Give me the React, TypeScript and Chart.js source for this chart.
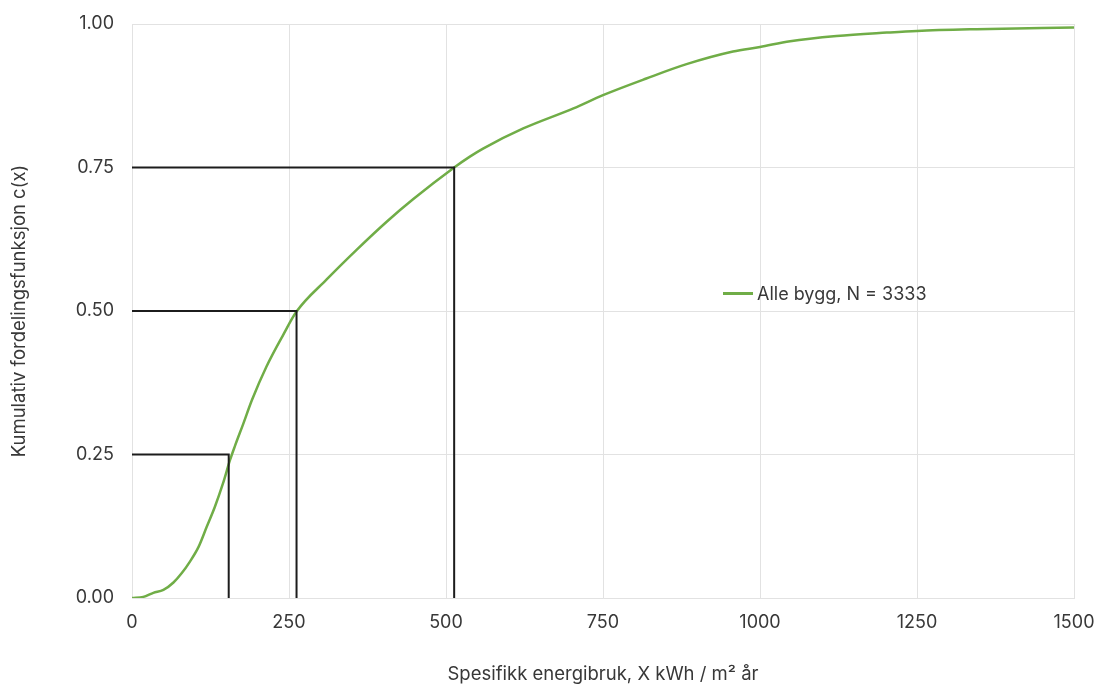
import React, { useEffect, useRef } from "react";
import { Chart, registerables } from "chart.js";

Chart.register(...registerables);

const energyX = [0, 18, 34, 50, 66, 79, 92, 106, 119, 132, 145, 156, 164, 177, 191, 214, 241, 262, 310, 358, 406, 448, 513, 538, 559, 623, 703, 750, 819, 883, 957, 1000, 1048, 1122, 1202, 1250, 1345, 1500];
const cdfY = [0, 0.002, 0.009, 0.014, 0.027, 0.043, 0.063, 0.089, 0.124, 0.159, 0.2, 0.24, 0.265, 0.303, 0.345, 0.403, 0.459, 0.499, 0.555, 0.607, 0.656, 0.695, 0.75, 0.769, 0.783, 0.818, 0.853, 0.876, 0.905, 0.93, 0.952, 0.96, 0.97, 0.979, 0.985, 0.988, 0.991, 0.994];

// Quartile marker lines
const quartileLevels = [0.25, 0.5, 0.75];
const quartileValues = [154, 262, 513];

const seriesLabel = "Alle bygg, N = 3333";
const xTitle = "Spesifikk energibruk, X kWh / m² år";
const yTitle = "Kumulativ fordelingsfunksjon c(x)";

const xTicks = [0, 250, 500, 750, 1000, 1250, 1500];
const yTicks = [0, 0.25, 0.5, 0.75, 1];

const GREEN = "#70ad47";
const TEXT = "#383838";
const GRID = "#e2e2e2";
const FONT = "Inter, sans-serif";

export default function App() {
  const canvasRef = useRef<HTMLCanvasElement>(null);

  useEffect(() => {
    if (!canvasRef.current) return;
    const quartileSets = quartileValues.map((qx, i) => ({
      label: "q" + i,
      data: [
        { x: 0, y: quartileLevels[i] },
        { x: qx, y: quartileLevels[i] },
        { x: qx, y: 0 },
      ],
      borderColor: "#1c1c1c",
      borderWidth: 2,
      pointRadius: 0,
      tension: 0,
      fill: false,
    }));
    const chart = new Chart(canvasRef.current, {
      type: "line",
      data: {
        datasets: [
          ...quartileSets,
          {
            label: seriesLabel,
            data: energyX.map((x, i) => ({ x, y: cdfY[i] })),
            borderColor: GREEN,
            borderWidth: 2.5,
            pointRadius: 0,
            cubicInterpolationMode: "monotone",
            fill: false,
          },
        ],
      },
      options: {
        animation: false,
        responsive: false,
        maintainAspectRatio: false,
        layout: { padding: { top: 24, right: 20, left: 0, bottom: 0 } },
        plugins: {
          legend: { display: false },
          tooltip: { enabled: false },
        },
        scales: {
          x: {
            type: "linear",
            min: 0,
            max: 1500,
            afterBuildTicks: (s: any) => {
              s.ticks = xTicks.map((v) => ({ value: v }));
            },
            afterFit: (s: any) => {
              s.height = 88;
              s.paddingLeft = 0;
              s.paddingRight = 0;
            },
            grid: { color: GRID, lineWidth: 1, drawTicks: false },
            border: { display: true, color: GRID },
            ticks: {
              color: TEXT,
              font: { family: FONT, size: 18 },
              padding: 14,
              maxRotation: 0,
              callback: (v: any) => String(v),
            },
            title: {
              display: true,
              text: xTitle,
              color: TEXT,
              font: { family: FONT, size: 18.5 },
              padding: { top: 14, bottom: 0 },
            },
          },
          y: {
            type: "linear",
            min: 0,
            max: 1,
            afterBuildTicks: (s: any) => {
              s.ticks = yTicks.map((v) => ({ value: v }));
            },
            afterFit: (s: any) => {
              s.width = 132;
              s.paddingTop = 0;
              s.paddingBottom = 0;
            },
            grid: { color: GRID, lineWidth: 1, drawTicks: false },
            border: { display: true, color: GRID },
            ticks: {
              color: TEXT,
              font: { family: FONT, size: 18 },
              padding: 18,
              callback: (v: any) => Number(v).toFixed(2),
            },
            title: {
              display: true,
              text: yTitle,
              color: TEXT,
              font: { family: FONT, size: 18.5 },
              padding: { top: 8, bottom: 0 },
            },
          },
        },
      },
    } as any);
    return () => chart.destroy();
  }, []);

  return (
    <div style={{ position: "fixed", left: 0, top: 0, width: 1094, height: 686, background: "#fff" }}>
      <canvas ref={canvasRef} width={1094} height={686} style={{ width: 1094, height: 686, display: "block" }} />
      <div
        style={{
          position: "absolute",
          left: 723,
          top: 283,
          display: "flex",
          alignItems: "center",
          fontFamily: FONT,
          fontSize: 18,
          color: TEXT,
          whiteSpace: "nowrap",
        }}
      >
        <span style={{ display: "inline-block", width: 30, height: 2.5, background: GREEN, marginRight: 4 }} />
        <span>{seriesLabel}</span>
      </div>
    </div>
  );
}
